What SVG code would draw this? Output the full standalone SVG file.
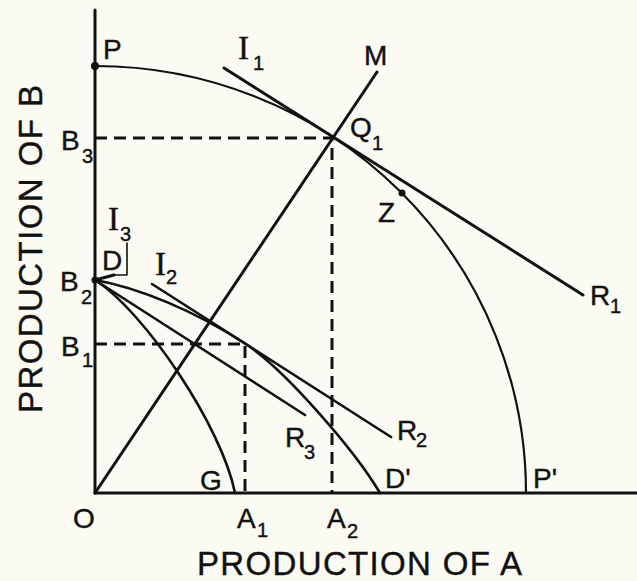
<svg xmlns="http://www.w3.org/2000/svg" width="637" height="581" viewBox="0 0 637 581">
<style>
.ln{fill:none;stroke:#111;stroke-linecap:round;stroke-linejoin:round}
.ax{stroke-width:3}
.th{stroke-width:3}
.md{stroke-width:2.6}
.tn{stroke-width:2.2}
.ds{fill:none;stroke:#111;stroke-width:3;stroke-dasharray:12 7}
.lb{font-family:"Liberation Sans","DejaVu Sans",sans-serif;font-size:28px;fill:#111;stroke:#111;stroke-width:0.4}
.sb{font-family:"Liberation Sans","DejaVu Sans",sans-serif;font-size:20px;fill:#111;stroke:#111;stroke-width:0.4}
.ib{font-family:"Liberation Serif","DejaVu Serif",serif;font-size:33px;fill:#111;stroke:#111;stroke-width:0.4}
.tt{font-family:"Liberation Sans","DejaVu Sans",sans-serif;font-size:33px;fill:#111;stroke:#111;stroke-width:0.4}
</style>
<rect x="0" y="0" width="637" height="581" fill="#fbfaf3"/>
<g id="axes">
<line class="ln ax" x1="95" y1="10" x2="95" y2="493"/>
<line class="ln ax" x1="95" y1="493" x2="637" y2="493"/>
</g>
<g id="connectors">
<path id="curve-PP" class="ln tn" d="M95,66 A431,427 0 0,1 526,493"/>
<line id="line-M" class="ln th" x1="95" y1="493" x2="377" y2="72"/>
<line id="line-I1R1" class="ln th" x1="224" y1="68" x2="583" y2="295"/>
<path id="dash-B3" class="ds" d="M95,138 H332 V493"/>
<path id="dash-B1" class="ds" d="M95,344 H245 V493"/>
<path id="curve-DD" class="ln md" d="M95,280 C140,288 195,311.3 245,343.5 C285,369.3 356,452 380,493"/>
<path id="curve-G" class="ln md" d="M95,280 C145,312 222,427 235,493"/>
<line id="line-R3" class="ln md" x1="95" y1="280" x2="305" y2="415"/>
<line id="line-I2R2" class="ln md" x1="152" y1="284" x2="391" y2="437"/>
<line id="line-I3" class="ln th" x1="95" y1="280" x2="114" y2="275"/>
<path id="bracket" class="ln" stroke-width="1.6" d="M127,243 V275 H112"/>
</g>
<g id="points">
<circle cx="95" cy="66" r="4" fill="#111"/>
<circle cx="402" cy="193" r="3.5" fill="#111"/>
<circle cx="95" cy="280" r="3.5" fill="#111"/>
</g>
<g id="labels">
<text class="lb" x="103" y="59" font-size="24">P</text>
<text class="ib" x="238" y="59">I</text><text class="sb" x="253" y="70">1</text>
<text class="lb" x="364" y="65">M</text>
<text class="lb" x="350" y="137">Q</text><text class="sb" x="372" y="150">1</text>
<text class="lb" x="378" y="222">Z</text>
<text class="lb" x="590" y="305">R</text><text class="sb" x="610" y="313">1</text>
<text class="lb" x="61" y="150" font-size="30">B</text><text class="sb" x="82" y="163" font-size="22">3</text>
<text class="lb" x="60" y="291" font-size="30">B</text><text class="sb" x="81" y="304" font-size="22">2</text>
<text class="lb" x="61" y="356" font-size="30">B</text><text class="sb" x="82" y="367" font-size="22">1</text>
<text class="ib" x="108" y="230">I</text><text class="sb" x="120" y="241">3</text>
<text class="lb" x="102" y="270">D</text>
<text class="ib" x="155" y="275">I</text><text class="sb" x="166" y="284">2</text>
<text class="lb" x="285" y="447">R</text><text class="sb" x="304" y="459">3</text>
<text class="lb" x="397" y="440">R</text><text class="sb" x="416" y="447">2</text>
<text class="lb" x="200" y="490" font-size="24">G</text>
<text class="lb" x="385" y="488">D'</text>
<text class="lb" x="533" y="488">P'</text>
<text class="lb" x="73" y="528" font-size="31">O</text>
<text class="lb" x="237" y="528">A</text><text class="sb" x="257" y="537">1</text>
<text class="lb" x="327" y="528">A</text><text class="sb" x="347" y="538">2</text>
<text class="tt" x="197" y="575" textLength="325" lengthAdjust="spacing">PRODUCTION OF A</text>
<text class="tt" transform="translate(42,413) rotate(-90)" x="0" y="0" textLength="328" lengthAdjust="spacing">PRODUCTION OF B</text>
</g>
</svg>
